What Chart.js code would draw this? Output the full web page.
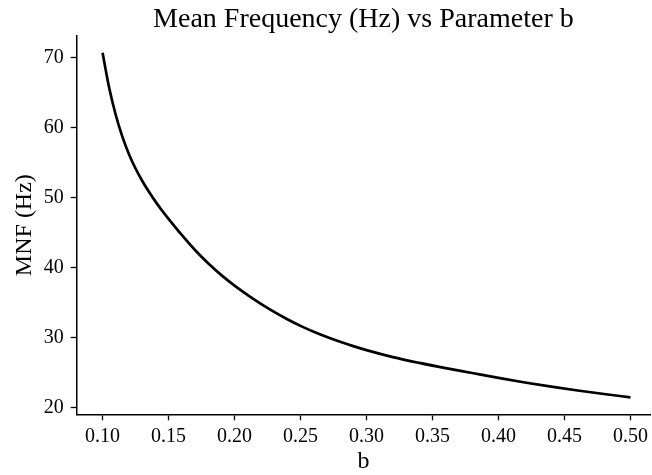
<!DOCTYPE html>
<html>
<head>
<meta charset="utf-8">
<script src="https://cdn.jsdelivr.net/npm/chart.js@4"></script>
<style>
  html, body { margin: 0; padding: 0; background: #fff; }
  #wrap { width: 652px; height: 475px; }
</style>
</head>
<body>
<div id="wrap"><canvas id="mnfChart" width="652" height="475"></canvas></div>
<script>
// values
const bValues = [0.10, 0.105, 0.11, 0.115, 0.12, 0.125, 0.13, 0.135, 0.14, 0.145, 0.15,
                 0.16, 0.17, 0.18, 0.19, 0.20, 0.21, 0.22, 0.23, 0.24, 0.25, 0.26, 0.27,
                 0.28, 0.29, 0.30, 0.32, 0.34, 0.36, 0.38, 0.40, 0.42, 0.44, 0.46, 0.48, 0.50];
const mnfValues = [70.7, 65.7, 61.8, 58.7, 56.2, 54.15, 52.4, 50.85, 49.45, 48.15, 46.95,
                   44.65, 42.5, 40.6, 38.9, 37.4, 36.05, 34.8, 33.65, 32.6, 31.65, 30.8, 30.05,
                   29.37, 28.75, 28.18, 27.18, 26.35, 25.6, 24.9, 24.2, 23.55, 22.95, 22.4, 21.9, 21.43];
const xTicks = [0.10, 0.15, 0.20, 0.25, 0.30, 0.35, 0.40, 0.45, 0.50];
const yTicks = [20, 30, 40, 50, 60, 70];

const serif = "'Liberation Serif', 'Times New Roman', serif";

document.addEventListener('DOMContentLoaded', () => {
    const ctx = document.getElementById('mnfChart');
    new Chart(ctx, {
        type: 'line',
        data: {
            datasets: [{
                data: bValues.map((b, i) => ({ x: b, y: mnfValues[i] })),
                borderColor: '#000',
                borderWidth: 2.7,
                pointRadius: 0,
                fill: false,
                cubicInterpolationMode: 'monotone'
            }]
        },
        options: {
            responsive: false,
            animation: false,
            layout: { padding: { left: 0, right: 0, top: 0, bottom: 0 } },
            plugins: {
                legend: { display: false },
                tooltip: { enabled: false },
                title: {
                    display: true,
                    fullSize: false,
                    text: 'Mean Frequency (Hz) vs Parameter b',
                    color: '#000',
                    font: { family: serif, size: 28, weight: 'normal', lineHeight: 1.2 },
                    padding: { top: 2.4, bottom: 0 }
                }
            },
            scales: {
                x: {
                    type: 'linear',
                    min: 0.0804,
                    max: 0.5149,
                    afterFit: (scale) => { scale.height = 60.7; },
                    afterBuildTicks: (scale) => { scale.ticks = xTicks.map(v => ({ value: v })); },
                    border: { display: true, color: '#000', width: 1.5 },
                    grid: { display: true, drawOnChartArea: false, drawTicks: true,
                            tickLength: 6, tickColor: '#000', tickWidth: 1.3 },
                    ticks: {
                        color: '#000',
                        padding: 4,
                        maxRotation: 0,
                        font: { family: serif, size: 20 },
                        callback: (v) => Number(v).toFixed(2)
                    },
                    title: {
                        display: true,
                        text: 'b',
                        color: '#000',
                        font: { family: serif, size: 24, lineHeight: 1 },
                        padding: { top: 0, bottom: 1 }
                    }
                },
                y: {
                    type: 'linear',
                    min: 19.0,
                    max: 73.1,
                    afterFit: (scale) => { scale.width = 76.7; },
                    afterBuildTicks: (scale) => { scale.ticks = yTicks.map(v => ({ value: v })); },
                    border: { display: true, color: '#000', width: 1.5 },
                    grid: { display: true, drawOnChartArea: false, drawTicks: true,
                            tickLength: 6, tickColor: '#000', tickWidth: 1.3 },
                    ticks: {
                        color: '#000',
                        padding: 7,
                        font: { family: serif, size: 20 },
                        callback: (v) => String(v)
                    },
                    title: {
                        display: true,
                        text: 'MNF (Hz)',
                        color: '#000',
                        font: { family: serif, size: 24, lineHeight: 1.2 },
                        padding: { top: 10, bottom: 0 }
                    }
                }
            }
        }
    });
});
</script>
</body>
</html>
